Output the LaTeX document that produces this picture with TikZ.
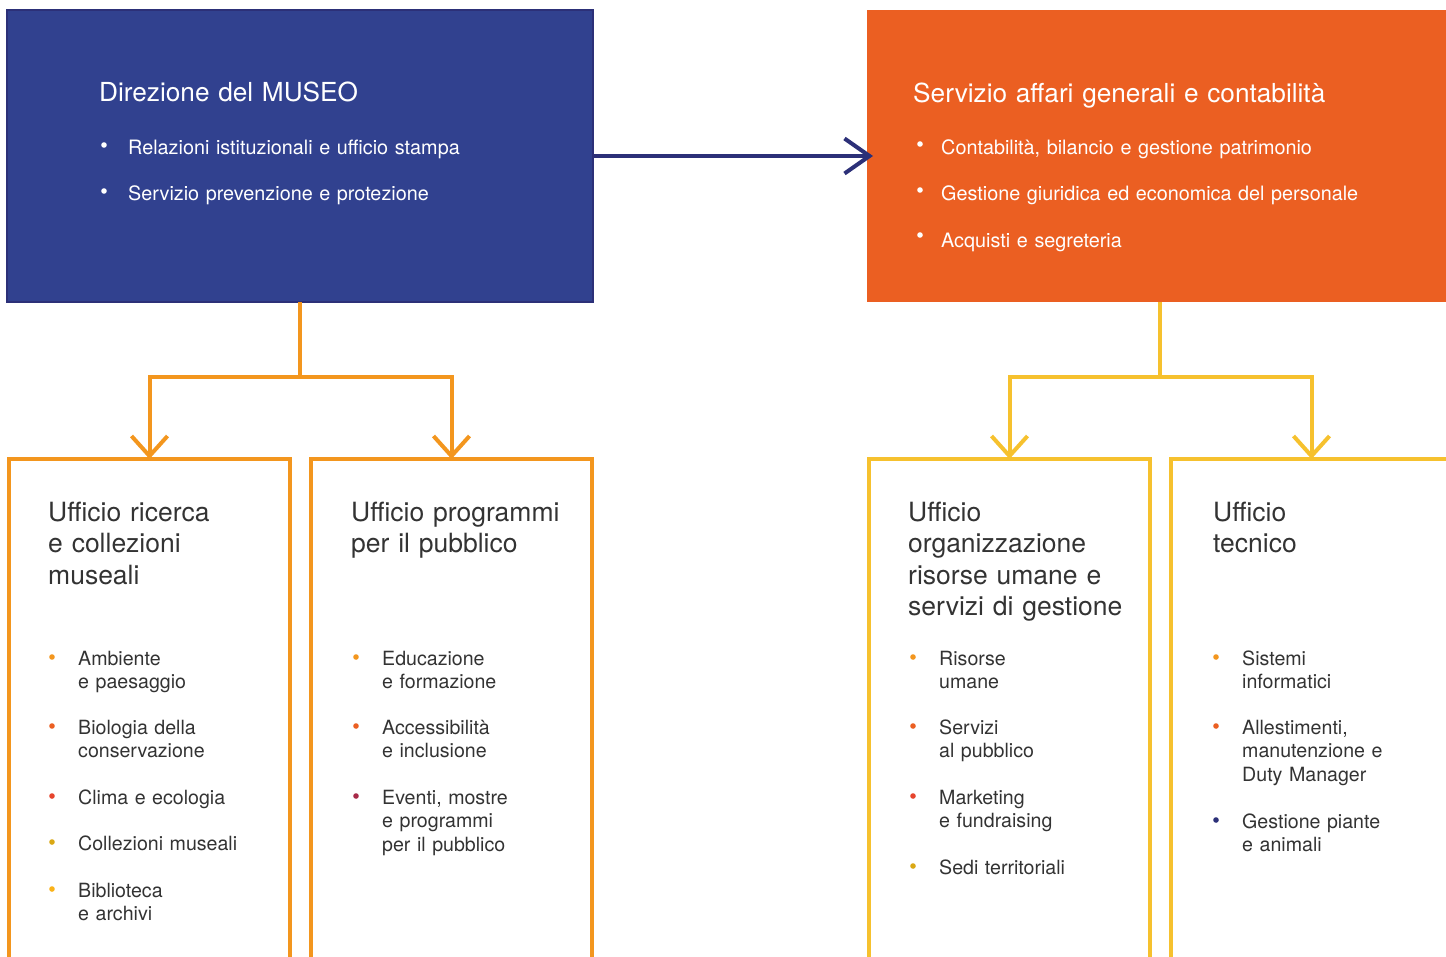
\documentclass[tikz,border=0pt]{standalone}
\usepackage{fontspec}
\setmainfont{TeX Gyre Heros}
\usepackage{xcolor}
\usepackage{tikz}
\usetikzlibrary{arrows.meta,positioning,calc}

\definecolor{museoblue}{RGB}{49,65,143}
\definecolor{navyline}{RGB}{44,48,120}
\definecolor{servorange}{RGB}{235,95,34}
\definecolor{treeorange}{RGB}{243,150,30}
\definecolor{treeyellow}{RGB}{246,193,46}
\definecolor{textgray}{RGB}{51,51,51}
\definecolor{dotred}{RGB}{230,68,45}
\definecolor{dotmustard}{RGB}{218,168,20}
\definecolor{dotyellow}{RGB}{250,178,25}
\definecolor{dotwine}{RGB}{168,42,72}

% item with coloured dot: name, x, y (baseline), dot colour, text
\newcommand{\voce}[5]{%
  \fill[#4] ($(#2,#3)+(-26,-8)$) circle (2.8pt);
  \node[voce] (#1) at (#2,#3) {#5};}

\begin{document}
\begin{tikzpicture}[x=1pt, y=-1pt,
    topbox/.style={minimum width=586pt, minimum height=292pt, anchor=north west, outer sep=0pt, inner sep=0pt},
    subbox/.style={draw, line width=4.5pt, minimum width=281pt, minimum height=560pt, anchor=north west, outer sep=0pt, inner sep=0pt},
    tree/.style={line width=4pt, -{Straight Barb[length=20pt, width=36pt]}},
    titolo/.style={anchor=base west, text width=480pt, align=left, inner sep=0pt, font=\fontsize{26.5}{31.5}\selectfont},
    voce/.style={anchor=base west, text width=230pt, align=left, inner sep=0pt, font=\fontsize{19.6}{23.5}\selectfont, text=textgray},
    topvoce/.style={anchor=base west, text width=500pt, align=left, inner sep=0pt, font=\fontsize{19.8}{23.5}\selectfont, text=white}]
  \useasboundingbox (0,0) rectangle (1446,956);
  \clip (0,0) rectangle (1446,956);

  % top boxes
  \node [topbox, fill=museoblue, draw=navyline, line width=2pt] (direzione) at (7,10) {};
  \node [topbox, fill=servorange] (servizio) at (867,10) {};

  % office boxes
  \node [subbox, draw=treeorange] (ricerca) at (9,459) {};
  \node [subbox, draw=treeorange] (programmi) at (311,459) {};
  \node [subbox, draw=treeyellow] (organizzazione) at (869,459) {};
  \node [subbox, draw=treeyellow] (tecnico) at (1171,459) {};

  % connectors
  \draw [navyline, line width=4pt, shorten >=-6pt, -{Straight Barb[length=25pt, width=35pt]}] (direzione.east) -- (servizio.west);
  \draw [treeorange, line width=4pt] (direzione.south) -- ++(0,75) coordinate (nodoA);
  \draw [treeorange, tree] (nodoA) -| (ricerca.north);
  \draw [treeorange, tree] (nodoA) -| (programmi.north);
  \draw [treeyellow, line width=4pt] (servizio.south) -- ++(0,75) coordinate (nodoB);
  \draw [treeyellow, tree] (nodoB) -| (organizzazione.north);
  \draw [treeyellow, tree] (nodoB) -| (tecnico.north);

  % top texts
  \node [titolo, text=white, font=\fontsize{26.2}{31.5}\selectfont] (direzionetit) at (99,101) {Direzione del MUSEO};
  \fill [white] (104,145) circle (2.8pt);
  \node [topvoce] (relazioni) at (128,154) {Relazioni istituzionali e ufficio stampa};
  \fill [white] (104,191) circle (2.8pt);
  \node [topvoce] (prevenzione) at (128,200) {Servizio prevenzione e protezione};

  \node [titolo, text=white, font=\fontsize{26.2}{31.5}\selectfont] (serviziotit) at (913,102) {Servizio affari generali e contabilità};
  \fill [white] (920,144) circle (2.8pt);
  \node [topvoce] (contabilita) at (941,154) {Contabilità, bilancio e gestione patrimonio};
  \fill [white] (920,190) circle (2.8pt);
  \node [topvoce] (personale) at (941,200) {Gestione giuridica ed economica del personale};
  \fill [white] (920,235) circle (2.8pt);
  \node [topvoce] (acquisti) at (941,247) {Acquisti e segreteria};

  % office titles
  \node [titolo, text=textgray] (ricercatit) at (48,521) {Ufficio ricerca\\e collezioni\\museali};
  \node [titolo, text=textgray] (programmitit) at (351,521) {Ufficio programmi\\per il pubblico};
  \node [titolo, text=textgray] (organizzazionetit) at (908,521) {Ufficio\\organizzazione\\risorse umane e\\servizi di gestione};
  \node [titolo, text=textgray] (tecnicotit) at (1213,521) {Ufficio\\tecnico};

  % office items
  \voce{ambiente}{78}{665}{treeorange}{Ambiente\\e paesaggio}
  \voce{biologia}{78}{734}{servorange}{Biologia della\\conservazione}
  \voce{clima}{78}{804}{dotred}{Clima e ecologia}
  \voce{collezioni}{78}{850}{dotmustard}{Collezioni museali}
  \voce{biblioteca}{78}{897}{dotyellow}{Biblioteca\\e archivi}

  \voce{educazione}{382}{665}{treeorange}{Educazione\\e formazione}
  \voce{accessibilita}{382}{734}{servorange}{Accessibilità\\e inclusione}
  \voce{eventi}{382}{804}{dotwine}{Eventi, mostre\\e programmi\\per il pubblico}

  \voce{risorse}{939}{665}{treeorange}{Risorse\\umane}
  \voce{servizi}{939}{734}{servorange}{Servizi\\al pubblico}
  \voce{marketing}{939}{804}{dotred}{Marketing\\e fundraising}
  \voce{sedi}{939}{874}{dotmustard}{Sedi territoriali}

  \voce{sistemi}{1242}{665}{treeorange}{Sistemi\\informatici}
  \voce{allestimenti}{1242}{734}{servorange}{Allestimenti,\\manutenzione e\\Duty Manager}
  \voce{piante}{1242}{828}{navyline}{Gestione piante\\e animali}
\end{tikzpicture}
\end{document}
